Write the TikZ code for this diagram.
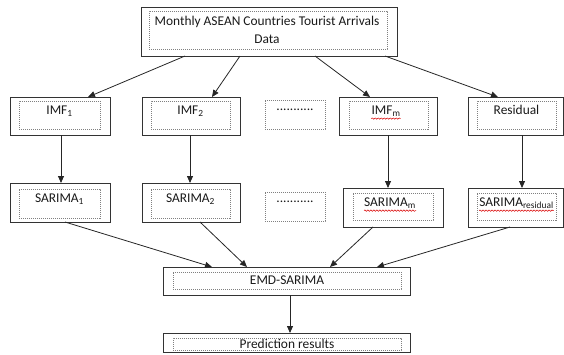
\documentclass[tikz,border=0pt]{standalone}
\usepackage{fontspec}
\setmainfont{Carlito}
\usetikzlibrary{arrows.meta,calc,decorations.pathmorphing}
\begin{document}
\begin{tikzpicture}[x=1pt,y=-1pt,
  outerbox/.style={draw=black!80,line width=0.9pt,minimum width=#1,inner sep=0pt,outer sep=0pt},
  innerbox/.style={draw=black!50,line width=0.6pt,dash pattern=on 1.2pt off 0.8pt,minimum width=#1,inner sep=0pt,outer sep=0pt},
  lbl/.style={font=\fontsize{13.4}{16}\selectfont,text=black!90,inner sep=0pt},
  arr/.style={draw=black!85,line width=0.8pt,-{Triangle[length=7pt,width=6pt]}},
  squig/.style={draw=red!85!black,line width=0.5pt,decorate,decoration={snake,segment length=3pt,amplitude=0.7pt}}
]
\useasboundingbox (0,0) rectangle (564,354);
% top
\node[outerbox=256,minimum height=49] (top) at (269,31.5) {};
\node[innerbox=238,minimum height=38] (topi) at (268,30) {};
\node[lbl,align=center] (topt) at (267,30) {Monthly ASEAN Countries Tourist Arrivals\\[2pt]Data};
% row 1
\node[outerbox=100,minimum height=38] (imf1) at (60,116) {};
\node[innerbox=81,minimum height=28] (imf1i) at (59.5,115) {};
\node[lbl] (imf1t) at (59.5,111) {IMF\textsubscript{1}};
\node[outerbox=98,minimum height=38] (imf2) at (191,116) {};
\node[innerbox=79,minimum height=28] (imf2i) at (190.5,115) {};
\node[lbl] (imf2t) at (190.5,111) {IMF\textsubscript{2}};
\node[innerbox=60,minimum height=29] (dots1) at (295,114.5) {};
\node[lbl] (dots1t) at (295,110) {...........};
\node[outerbox=98,minimum height=38] (imfm) at (388,116) {};
\node[innerbox=79,minimum height=28] (imfmi) at (388.5,115) {};
\node[lbl] (imfmt) at (386,111) {IMF\textsubscript{m}};
\node[outerbox=95,minimum height=38] (res) at (515.5,116) {};
\node[innerbox=79,minimum height=28] (resi) at (516.5,115) {};
\node[lbl] (rest) at (516.5,110) {Residual};
% row 2
\node[outerbox=100,minimum height=39] (sar1) at (60,202.5) {};
\node[innerbox=81,minimum height=29] (sar1i) at (59.5,203.5) {};
\node[lbl] (sar1t) at (59.5,199) {SARIMA\textsubscript{1}};
\node[outerbox=98,minimum height=39] (sar2) at (191,202.5) {};
\node[innerbox=79,minimum height=29] (sar2i) at (190.5,203.5) {};
\node[lbl] (sar2t) at (190.5,199) {SARIMA\textsubscript{2}};
\node[innerbox=60,minimum height=29] (dots2) at (295,206.5) {};
\node[lbl] (dots2t) at (295,202) {...........};
\node[outerbox=100,minimum height=39] (sarm) at (393,207.5) {};
\node[innerbox=80,minimum height=27] (sarmi) at (393,206.5) {};
\node[lbl] (sarmt) at (390,203) {SARIMA\textsubscript{m}};
\node[outerbox=95,minimum height=39] (sarr) at (515.5,207.5) {};
\node[innerbox=79,minimum height=27] (sarri) at (516.5,206.5) {};
\node[lbl] (sarrt) at (516.5,203) {SARIMA\textsubscript{residual}};
% bottom
\node[outerbox=247,minimum height=28] (emd) at (286.5,281) {};
\node[innerbox=228,minimum height=17] (emdi) at (287,280.5) {};
\node[lbl] (emdt) at (287,280.5) {EMD-SARIMA};
\node[outerbox=247,minimum height=19] (pred) at (286.5,342.5) {};
\node[innerbox=228,minimum height=12] (predi) at (287,344) {};
\node[lbl] (predt) at (287,343.5) {Prediction results};
% squiggles
\draw[squig] ($(imfmt.south west)+(0,2)$) -- ($(imfmt.south east)+(0,2)$);
\draw[squig] ($(sarmt.south west)+(0,2)$) -- ($(sarmt.south east)+(0,2)$);
\draw[squig] ($(sarrt.south west)+(0,2)$) -- ($(sarrt.south east)+(0,2)$);
% arrows
\draw[arr] ($(top.south west)+(44,0)$) -- ($(imf1.north west)+(78,0)$);
\draw[arr] ($(top.south west)+(99,0)$) -- ($(imf2.north west)+(70,0)$);
\draw[arr] ($(top.south west)+(174,0)$) -- ($(imfm.north west)+(31,0)$);
\draw[arr] ($(top.south west)+(244,0)$) -- ($(res.north west)+(30,0)$);
\draw[arr] ($(imf1.south west)+(51,0)$) -- ($(sar1.north west)+(51,0)$);
\draw[arr] ($(imf2.south west)+(48,0)$) -- ($(sar2.north west)+(48,0)$);
\draw[arr] ($(imfm.south west)+(49,0)$) -- ($(sarm.north west)+(45,0)$);
\draw[arr] ($(res.south west)+(54,0)$) -- ($(sarr.north west)+(54,0)$);
\draw[arr] ($(sar1.south west)+(55,0)$) -- ($(emd.north west)+(49,0)$);
\draw[arr] ($(sar2.south west)+(58,0)$) -- ($(emd.north west)+(84,0)$);
\draw[arr] ($(sarm.south west)+(30,0)$) -- ($(emd.north west)+(167,0)$);
\draw[arr] ($(sarr.south west)+(42,0)$) -- ($(emd.north west)+(214,0)$);
\draw[arr] ($(emd.south west)+(127,0)$) -- ($(pred.north west)+(127,0)$);
\end{tikzpicture}
\end{document}
